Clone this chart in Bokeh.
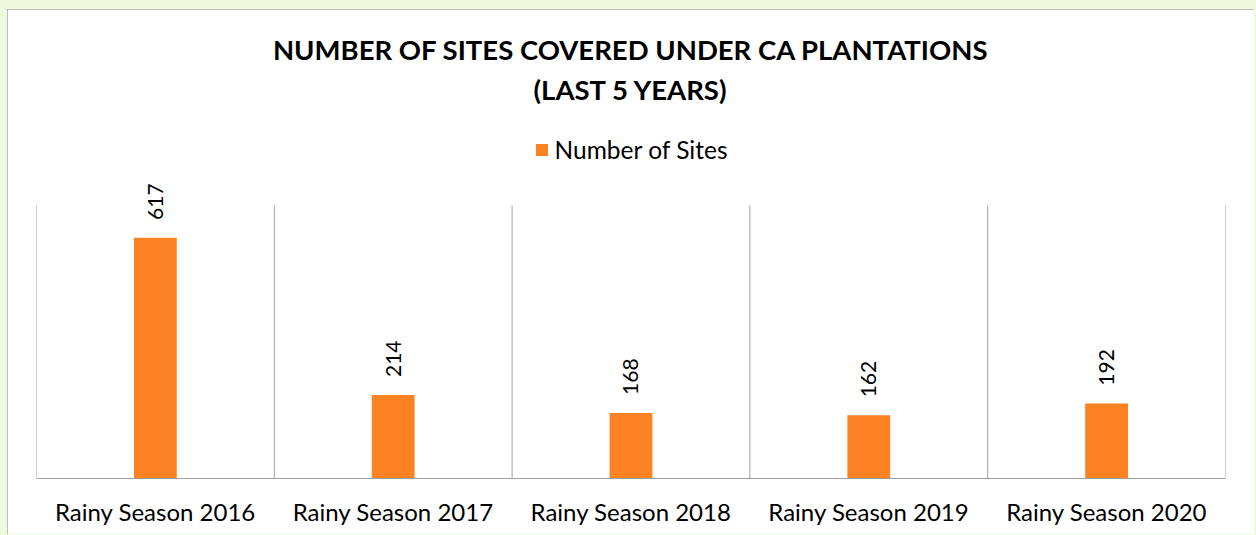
import math
from bokeh.plotting import figure
from bokeh.models import (ColumnDataSource, Range1d, FixedTicker, LabelSet, Legend,
                          LegendItem, Title)
from bokeh.core.properties import value
from bokeh.embed import file_html
from bokeh.resources import INLINE

categories = ["Rainy Season 2016", "Rainy Season 2017", "Rainy Season 2018",
              "Rainy Season 2019", "Rainy Season 2020"]
sites = [617, 214, 168, 162, 192]
title_line1 = "NUMBER OF SITES COVERED UNDER CA PLANTATIONS"
title_line2 = "(LAST 5 YEARS)"
series_name = "Number of Sites"
Y_MAX = 700  # value axis maximum (top of the category separators)

FONT = "Lato"
ORANGE = "#fd8223"
GREY = "#a0a0a0"

n = len(categories)
pos = [i + 0.5 for i in range(n)]
bounds = list(range(n + 1))
src = ColumnDataSource(dict(x=pos, y=sites, cat=categories,
                            lbl=[str(v) for v in sites]))
sep = ColumnDataSource(dict(x=bounds, y0=[0] * len(bounds), y1=[Y_MAX] * len(bounds)))

# plot area: separators 273 px tall, extra 80 px of headroom for the legend
FRAME_H = 353
y_end = Y_MAX * FRAME_H / 273

p = figure(width=1247, height=525, output_backend="svg", toolbar_location=None,
           title=None, x_range=Range1d(0, n), y_range=Range1d(0, y_end),
           min_border_left=29, min_border_right=29, min_border_top=116,
           min_border_bottom=56)
p.background_fill_color = "white"
p.border_fill_color = "white"
p.outline_line_color = None
p.xgrid.visible = False
p.ygrid.visible = False
p.yaxis.visible = False

p.segment(x0="x", y0="y0", x1="x", y1="y1", source=sep, line_color=GREY,
          line_width=1)
r = p.vbar(x="x", top="y", width=0.18, source=src, fill_color=ORANGE,
           line_color=None)

p.xaxis.ticker = FixedTicker(ticks=pos)
p.xaxis.major_label_overrides = {x: c for x, c in zip(pos, categories)}
p.xaxis.major_tick_line_color = None
p.xaxis.minor_tick_line_color = None
p.xaxis.axis_line_color = GREY
p.xaxis.major_label_text_font = FONT
p.xaxis.major_label_text_font_size = "24px"
p.xaxis.major_label_text_color = "#000000"
p.xaxis.major_label_standoff = 12

labels = LabelSet(x="x", y="y", text="lbl", source=src, angle=math.pi / 2,
                  text_align="left", text_baseline="middle", y_offset=18,
                  text_font=value(FONT), text_font_size=value("21px"),
                  text_color="#000000")
p.add_layout(labels)

legend = Legend(items=[LegendItem(label=series_name, renderers=[r])],
                orientation="horizontal", location="top_center",
                border_line_color=None, background_fill_alpha=0,
                glyph_width=15, glyph_height=15, label_text_font=FONT,
                label_text_font_size="24.5px", label_text_color="#000000",
                label_standoff=6, padding=0, margin=10)
p.add_layout(legend, "center")

spacer = Title(text=" ", text_font=FONT, text_font_size="12px", standoff=0)
t2 = Title(text=title_line2, align="center", text_font=FONT,
           text_font_size="27.5px", text_font_style="bold", text_color="#000000",
           standoff=5)
t1 = Title(text=title_line1, align="center", text_font=FONT,
           text_font_size="27.5px", text_font_style="bold", text_color="#000000",
           standoff=5)
p.add_layout(spacer, "above")
p.add_layout(t2, "above")
p.add_layout(t1, "above")

css = ("<style>html,body{background:#eef9dd !important;}"
       "body{padding:9px 0 0 7px !important;box-sizing:border-box;}"
       "div[data-root-id] > *{outline:1px solid #a6a6a6;outline-offset:-1px;}"
       "</style></head>")
html = file_html(p, INLINE)
html = html.replace("</head>", css, 1)
open("out.html", "w").write(html)
